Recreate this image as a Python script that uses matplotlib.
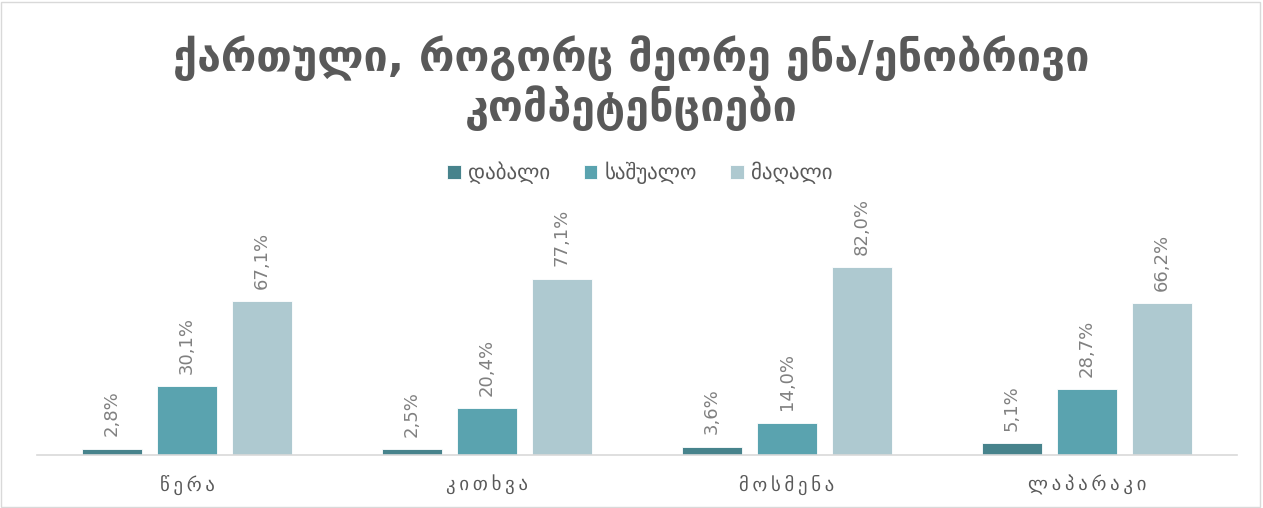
import numpy as np
import matplotlib.pyplot as plt
from matplotlib.patches import Rectangle

plt.rcParams['font.family'] = ['DejaVu Sans']

# data
skills = ["წერა", "კითხვა", "მოსმენა", "ლაპარაკი"]
levels = ["დაბალი", "საშუალო", "მაღალი"]
low = [2.8, 2.5, 3.6, 5.1]
mid = [30.1, 20.4, 14.0, 28.7]
high = [67.1, 77.1, 82.0, 66.2]
colors = ["#47838C", "#5AA3AF", "#AEC9D0"]

title1 = "ქართული, როგორც მეორე ენა/ენობრივი"
title2 = "კომპეტენციები"


def spaced(s, gap="\u2009"):
    return gap.join(s)


fig = plt.figure(figsize=(12.63, 5.08), dpi=100)
fig.patches.append(Rectangle((0.001, 0.002), 0.997, 0.995, transform=fig.transFigure,
                             fill=False, edgecolor="#D9D9D9", lw=1))

ax = fig.add_axes([37/1263, 53/508, 1200/1263, 206/508])
x = np.arange(len(skills))
w = 0.2
step = 0.25
for i, (vals, c, name) in enumerate(zip([low, mid, high], colors, levels)):
    pos = x + (i - 1) * step
    ax.bar(pos, vals, width=w, color=c, edgecolor="white", linewidth=0.6, label=name)
    for xp, v in zip(pos, vals):
        ax.annotate(f"{v:.1f}%".replace(".", ","), (xp, v), xytext=(0, 9),
                    textcoords="offset points", rotation=90, ha="center", va="bottom",
                    fontsize=13, color="#808080", annotation_clip=False)

ax.set_xlim(-0.5, 3.5)
ax.set_ylim(0, 90)
ax.set_yticks([])
for s in ["top", "right", "left"]:
    ax.spines[s].set_visible(False)
ax.spines["bottom"].set_color("#D9D9D9")
ax.spines["bottom"].set_linewidth(1.2)
ax.set_xticks(x)
ax.set_xticklabels([spaced(s) for s in skills], fontsize=13.5, color="#595959")
ax.tick_params(axis="x", length=0, pad=14)

fig.text(0.5, 1 - 58/508, title1, ha="center", va="center",
         fontsize=31, fontweight="bold", color="#595959")
fig.text(0.5, 1 - 108/508, title2, ha="center", va="center",
         fontsize=31, fontweight="bold", color="#595959")

fig.legend(loc="center", bbox_to_anchor=(640/1263, 1 - 173/508), ncol=3, frameon=False,
           fontsize=15, labelcolor="#595959", handlelength=0.65, handleheight=0.65,
           handletextpad=0.35, columnspacing=1.6)

fig.savefig("out.png", dpi=100)
